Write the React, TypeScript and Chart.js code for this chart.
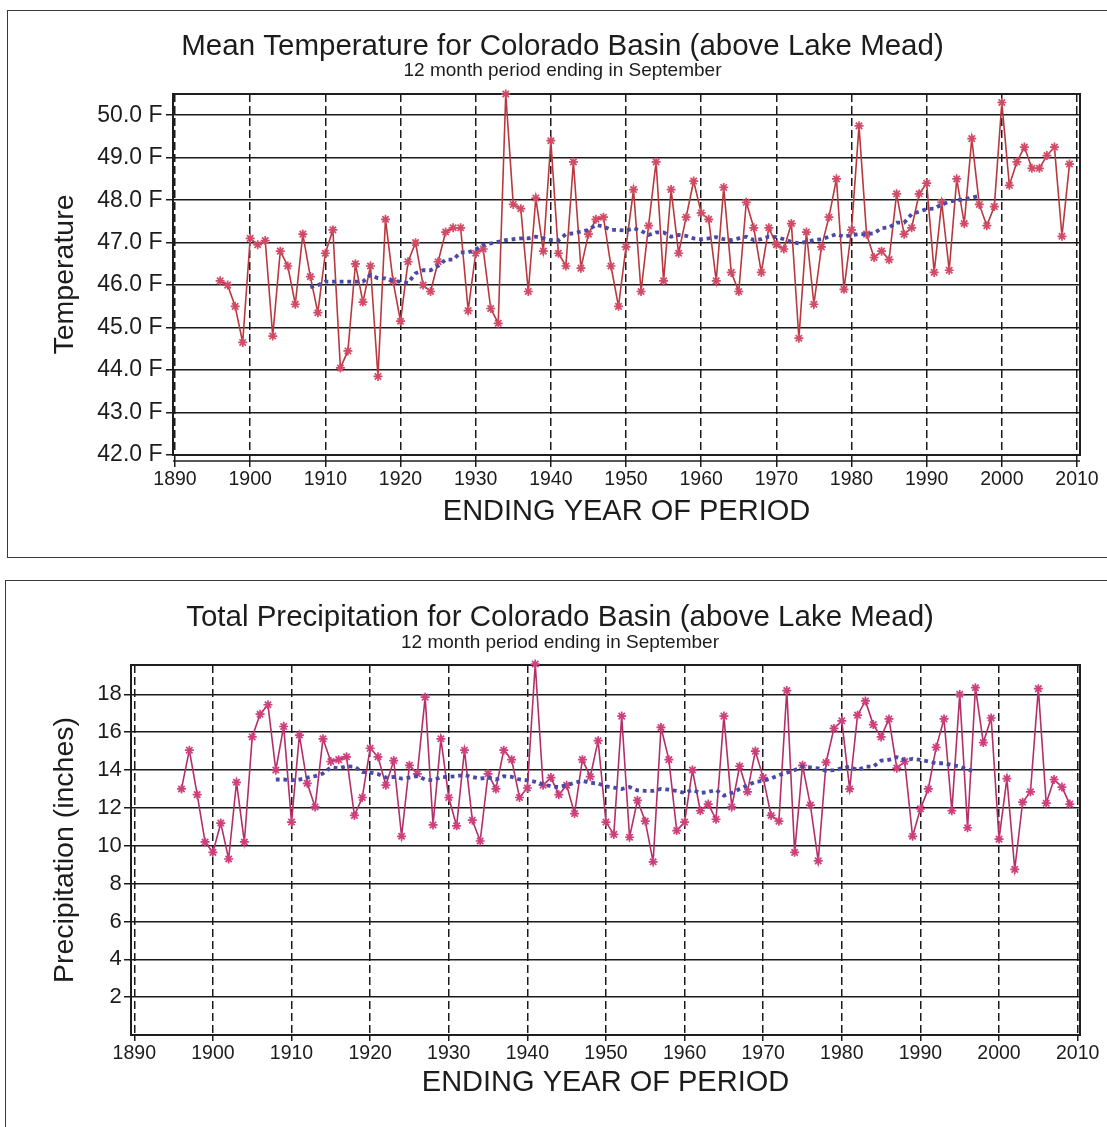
import React, { useEffect, useRef } from "react";
import { Chart, registerables } from "chart.js";

Chart.register(...registerables);

const FONT = "'Liberation Sans', Arial, Helvetica, sans-serif";
const TEXT = "#1c1c1c";

// ---------- data ----------
const years = [
  1896, 1897, 1898, 1899, 1900, 1901, 1902, 1903, 1904, 1905, 1906, 1907, 1908, 1909,
  1910, 1911, 1912, 1913, 1914, 1915, 1916, 1917, 1918, 1919,
  1920, 1921, 1922, 1923, 1924, 1925, 1926, 1927, 1928, 1929,
  1930, 1931, 1932, 1933, 1934, 1935, 1936, 1937, 1938, 1939,
  1940, 1941, 1942, 1943, 1944, 1945, 1946, 1947, 1948, 1949,
  1950, 1951, 1952, 1953, 1954, 1955, 1956, 1957, 1958, 1959,
  1960, 1961, 1962, 1963, 1964, 1965, 1966, 1967, 1968, 1969,
  1970, 1971, 1972, 1973, 1974, 1975, 1976, 1977, 1978, 1979,
  1980, 1981, 1982, 1983, 1984, 1985, 1986, 1987, 1988, 1989,
  1990, 1991, 1992, 1993, 1994, 1995, 1996, 1997, 1998, 1999,
  2000, 2001, 2002, 2003, 2004, 2005, 2006, 2007, 2008, 2009,
];

const meanTemperature = [
  46.1, 46.0, 45.5, 44.65, 47.1, 46.95, 47.05, 44.8, 46.8, 46.45, 45.55, 47.2, 46.2, 45.35,
  46.75, 47.3, 44.05, 44.45, 46.5, 45.6, 46.45, 43.85, 47.55, 46.1,
  45.15, 46.55, 47.0, 46.0, 45.85, 46.55, 47.25, 47.35, 47.35, 45.4,
  46.75, 46.85, 45.45, 45.1, 50.5, 47.9, 47.8, 45.85, 48.05, 46.8,
  49.4, 46.75, 46.45, 48.9, 46.4, 47.2, 47.55, 47.6, 46.45, 45.5,
  46.9, 48.25, 45.85, 47.4, 48.9, 46.1, 48.25, 46.75, 47.6, 48.45,
  47.7, 47.55, 46.1, 48.3, 46.3, 45.85, 47.95, 47.35, 46.3, 47.35,
  46.95, 46.85, 47.45, 44.75, 47.25, 45.55, 46.9, 47.6, 48.5, 45.9,
  47.3, 49.75, 47.2, 46.65, 46.8, 46.6, 48.15, 47.2, 47.35, 48.15,
  48.4, 46.3, 47.95, 46.35, 48.5, 47.45, 49.45, 47.9, 47.4, 47.85,
  50.3, 48.35, 48.9, 49.25, 48.75, 48.75, 49.05, 49.25, 47.15, 48.85,
];

const totalPrecipitation = [
  13.0, 15.05, 12.7, 10.2, 9.65, 11.2, 9.3, 13.35, 10.2, 15.75, 16.95, 17.45, 14.0, 16.3,
  11.25, 15.85, 13.3, 12.05, 15.65, 14.45, 14.55, 14.7, 11.6, 12.55,
  15.15, 14.7, 13.2, 14.5, 10.5, 14.25, 13.8, 17.85, 11.1, 15.65,
  12.55, 11.05, 15.05, 11.35, 10.25, 13.8, 13.0, 15.05, 14.55, 12.55,
  13.05, 19.6, 13.2, 13.6, 12.7, 13.2, 11.7, 14.55, 13.65, 15.55,
  11.25, 10.6, 16.85, 10.45, 12.4, 11.3, 9.15, 16.25, 14.55, 10.8,
  11.25, 14.0, 11.85, 12.2, 11.4, 16.85, 12.05, 14.2, 12.85, 15.0,
  13.6, 11.6, 11.3, 18.2, 9.65, 14.25, 12.15, 9.2, 14.4, 16.2,
  16.6, 13.0, 16.9, 17.65, 16.4, 15.75, 16.7, 14.1, 14.45, 10.5,
  11.95, 13.0, 15.2, 16.7, 11.85, 18.0, 10.95, 18.35, 15.45, 16.75,
  10.35, 13.55, 8.75, 12.3, 12.85, 18.3, 12.25, 13.5, 13.1, 12.2,
];

const avgYears = [
  1908, 1909, 1910, 1911, 1912, 1913, 1914, 1915, 1916, 1917, 1918, 1919,
  1920, 1921, 1922, 1923, 1924, 1925, 1926, 1927, 1928, 1929,
  1930, 1931, 1932, 1933, 1934, 1935, 1936, 1937, 1938, 1939,
  1940, 1941, 1942, 1943, 1944, 1945, 1946, 1947, 1948, 1949,
  1950, 1951, 1952, 1953, 1954, 1955, 1956, 1957, 1958, 1959,
  1960, 1961, 1962, 1963, 1964, 1965, 1966, 1967, 1968, 1969,
  1970, 1971, 1972, 1973, 1974, 1975, 1976, 1977, 1978, 1979,
  1980, 1981, 1982, 1983, 1984, 1985, 1986, 1987, 1988, 1989,
  1990, 1991, 1992, 1993, 1994, 1995, 1996, 1997,
];

const temperatureAverage = [
  45.95, 46.0, 46.08, 46.08, 46.08, 46.08, 46.08, 46.08, 46.24, 46.16, 46.16, 46.1,
  46.08, 46.05, 46.28, 46.35, 46.35, 46.45, 46.6, 46.6, 46.77, 46.77,
  46.84, 46.95, 46.98, 47.02, 47.06, 47.08, 47.1, 47.1, 47.14, 47.1,
  47.06, 47.05, 47.2, 47.22, 47.26, 47.3, 47.42, 47.38, 47.3, 47.3,
  47.28, 47.34, 47.28, 47.18, 47.24, 47.24, 47.14, 47.18, 47.16, 47.1,
  47.08, 47.1, 47.13, 47.08, 47.06, 47.1, 47.14, 47.06, 47.08, 47.14,
  47.13, 47.08, 47.02, 46.98, 47.02, 47.06, 47.08, 47.14, 47.2, 47.14,
  47.18, 47.2, 47.2, 47.22, 47.34, 47.36, 47.47, 47.47, 47.67, 47.73,
  47.79, 47.8, 47.9, 47.96, 48.0, 48.02, 48.06, 48.1,
];

const precipitationAverage = [
  13.5, 13.5, 13.46, 13.5, 13.6, 13.68, 13.82, 14.14, 14.09, 14.2, 14.18, 13.9,
  13.86, 13.79, 13.6, 13.64, 13.55, 13.6, 13.68, 13.5, 13.46, 13.62,
  13.64, 13.68, 13.73, 13.64, 13.55, 13.6, 13.5, 13.68, 13.64, 13.5,
  13.46, 13.38, 13.25, 13.14, 13.1, 13.2, 13.32, 13.43, 13.32, 13.29,
  13.14, 13.07, 13.0, 13.1, 12.93, 12.9, 12.9, 13.0, 12.96, 12.9,
  12.79, 12.95, 12.79, 12.84, 12.95, 12.65, 12.79, 13.0, 13.2, 13.38,
  13.43, 13.55, 13.73, 13.86, 14.0, 14.18, 14.14, 14.09, 13.96, 14.0,
  14.09, 14.18, 14.0, 14.18, 14.18, 14.5, 14.54, 14.68, 14.54, 14.59,
  14.54, 14.45, 14.36, 14.36, 14.27, 14.18, 14.04, 13.91,
];

const yearTicks = [1890, 1900, 1910, 1920, 1930, 1940, 1950, 1960, 1970, 1980, 1990, 2000, 2010];
const temperatureTicks = [42, 43, 44, 45, 46, 47, 48, 49, 50];
const precipitationTicks = [2, 4, 6, 8, 10, 12, 14, 16, 18];

// ---------- helpers ----------
const framePlugin = {
  id: "frame",
  beforeDatasetsDraw(chart: any, _args: any, opts: any) {
    const { ctx, chartArea: a } = chart;
    ctx.save();
    ctx.strokeStyle = opts.color || "#222";
    ctx.lineWidth = opts.width || 2;
    ctx.strokeRect(a.left, a.top, a.right - a.left, a.bottom - a.top);
    if (opts.baseOffset) {
      ctx.lineWidth = 1.5;
      ctx.beginPath();
      ctx.moveTo(a.left, a.bottom + opts.baseOffset);
      ctx.lineTo(a.right, a.bottom + opts.baseOffset);
      ctx.stroke();
    }
    ctx.restore();
  },
};

type ChartSpec = {
  title: string;
  subtitle: string;
  yTitle: string;
  values: number[];
  average: number[];
  yTicks: number[];
  yLabel: (v: number) => string;
  yMin: number;
  yMax: number;
  xMin: number;
  xMax: number;
  padding: { top: number; left: number; right: number; bottom: number };
  subtitlePad: number;
  yWidth: number;
  xHeight: number;
  yTickFont: number;
  yTickPad: number;
  yTitlePad: number;
  xTickLen: number;
  xTickPad: number;
  xTitlePad: number;
  lineColor: string;
  markColor: string;
  baseOffset: number;
};

function makeConfig(s: ChartSpec): any {
  return {
    type: "line",
    data: {
      datasets: [
        {
          label: "Moving average",
          data: avgYears.map((x, i) => ({ x, y: s.average[i] })),
          borderColor: "#4a4aa6",
          borderWidth: 3.8,
          borderDash: [3.8, 3.8],
          pointRadius: 0,
          fill: false,
          tension: 0,
          clip: false,
        },
        {
          label: s.yTitle,
          data: years.map((x, i) => ({ x, y: s.values[i] })),
          borderColor: s.lineColor,
          borderWidth: 1.6,
          pointStyle: "star",
          pointRadius: 4.5,
          pointBorderColor: s.markColor,
          pointBackgroundColor: s.markColor,
          pointBorderWidth: 1.7,
          fill: false,
          tension: 0,
          clip: false,
        },
      ],
    },
    options: {
      animation: false,
      responsive: false,
      events: [],
      layout: { padding: s.padding },
      plugins: {
        legend: { display: false },
        tooltip: { enabled: false },
        title: {
          display: true,
          text: s.title,
          color: TEXT,
          font: { family: FONT, size: 29.5, weight: "normal", lineHeight: 1 },
          padding: { top: 0, bottom: 0 },
        },
        subtitle: {
          display: true,
          text: s.subtitle,
          color: TEXT,
          font: { family: FONT, size: 19, weight: "normal", lineHeight: 1 },
          padding: { top: 0, bottom: s.subtitlePad },
        },
        frame: { color: "#1e1e1e", width: 2, baseOffset: s.baseOffset },
      },
      scales: {
        x: {
          type: "linear",
          min: s.xMin,
          max: s.xMax,
          afterBuildTicks: (scale: any) => {
            scale.ticks = yearTicks.map((v) => ({ value: v }));
          },
          afterFit: (scale: any) => {
            scale.height = s.xHeight;
            scale.paddingLeft = 0;
            scale.paddingRight = 0;
          },
          ticks: {
            autoSkip: false,
            maxRotation: 0,
            minRotation: 0,
            padding: s.xTickPad,
            color: TEXT,
            font: { family: FONT, size: 19.5, lineHeight: 1 },
            callback: (v: number) => String(v),
          },
          grid: {
            color: "#1a1a1a",
            lineWidth: 1.5,
            drawTicks: true,
            tickLength: s.xTickLen,
            tickColor: "#1a1a1a",
            tickWidth: 1.5,
          },
          border: { display: false, dash: [8, 4] },
          title: {
            display: true,
            text: "ENDING YEAR OF PERIOD",
            color: TEXT,
            font: { family: FONT, size: 29, weight: "normal", lineHeight: 1 },
            padding: { top: 0, bottom: s.xTitlePad },
          },
        },
        y: {
          type: "linear",
          min: s.yMin,
          max: s.yMax,
          afterBuildTicks: (scale: any) => {
            scale.ticks = s.yTicks.map((v) => ({ value: v }));
          },
          afterFit: (scale: any) => {
            scale.width = s.yWidth;
            scale.paddingTop = 0;
            scale.paddingBottom = 0;
          },
          ticks: {
            padding: s.yTickPad,
            color: TEXT,
            font: { family: FONT, size: s.yTickFont, lineHeight: 1 },
            callback: (v: number) => s.yLabel(v),
          },
          grid: {
            color: "#1a1a1a",
            lineWidth: 1.5,
            drawTicks: true,
            tickLength: 7,
            tickColor: "#1a1a1a",
            tickWidth: 1.5,
          },
          border: { display: false },
          title: {
            display: true,
            text: s.yTitle,
            color: TEXT,
            font: { family: FONT, size: 28.5, weight: "normal", lineHeight: 1 },
            padding: { top: s.yTitlePad, bottom: 0 },
          },
        },
      },
    },
    plugins: [framePlugin],
  };
}

const temperatureSpec: ChartSpec = {
  title: "Mean Temperature for Colorado Basin (above Lake Mead)",
  subtitle: "12 month period ending in September",
  yTitle: "Temperature",
  values: meanTemperature,
  average: temperatureAverage,
  yTicks: temperatureTicks,
  yLabel: (v) => `${v.toFixed(1)} F`,
  yMin: 42,
  yMax: 50.5,
  xMin: 1889.73,
  xMax: 2010.4,
  padding: { top: 32, left: 45, right: 27, bottom: 0 },
  subtitlePad: 13.5,
  yWidth: 128,
  xHeight: 105,
  yTickFont: 23,
  yTickPad: 3.5,
  yTitlePad: 5.5,
  xTickLen: 12,
  xTickPad: 3.3,
  xTitlePad: 34,
  lineColor: "#b8383e",
  markColor: "#d24a66",
  baseOffset: 6,
};

const precipitationSpec: ChartSpec = {
  title: "Total Precipitation for Colorado Basin (above Lake Mead)",
  subtitle: "12 month period ending in September",
  yTitle: "Precipitation (inches)",
  values: totalPrecipitation,
  average: precipitationAverage,
  yTicks: precipitationTicks,
  yLabel: (v) => String(v),
  yMin: 0,
  yMax: 19.55,
  xMin: 1889.58,
  xMax: 2010.3,
  padding: { top: 33.5, left: 40, right: 27, bottom: 0 },
  subtitlePad: 13,
  yWidth: 91,
  xHeight: 92,
  yTickFont: 22,
  yTickPad: 2.3,
  yTitlePad: 10.5,
  xTickLen: 6,
  xTickPad: 2.6,
  xTitlePad: 29.5,
  lineColor: "#b42f68",
  markColor: "#cf3f7c",
  baseOffset: 0,
};

function ChartCanvas({ spec, top, height }: { spec: ChartSpec; top: number; height: number }) {
  const ref = useRef<HTMLCanvasElement | null>(null);
  useEffect(() => {
    if (!ref.current) return;
    const chart = new Chart(ref.current, makeConfig(spec));
    return () => chart.destroy();
  }, [spec]);
  return (
    <canvas
      ref={ref}
      width={1107}
      height={height}
      style={{ position: "absolute", left: 0, top, width: 1107, height }}
    />
  );
}

export default function App() {
  return (
    <div
      style={{
        position: "absolute",
        left: 0,
        top: 0,
        width: 1107,
        height: 1127,
        overflow: "hidden",
        background: "#ffffff",
      }}
    >
      <div
        style={{
          position: "absolute",
          left: 7,
          top: 10,
          width: 1120,
          height: 546,
          borderTop: "1.5px solid #3a3a3a",
          borderLeft: "1.5px solid #3a3a3a",
          borderBottom: "1.5px solid #3a3a3a",
        }}
      />
      <div
        style={{
          position: "absolute",
          left: 5,
          top: 580,
          width: 1120,
          height: 600,
          borderTop: "1.5px solid #3a3a3a",
          borderLeft: "1.5px solid #3a3a3a",
        }}
      />
      <ChartCanvas spec={temperatureSpec} top={0} height={560} />
      <ChartCanvas spec={precipitationSpec} top={570} height={557} />
    </div>
  );
}
